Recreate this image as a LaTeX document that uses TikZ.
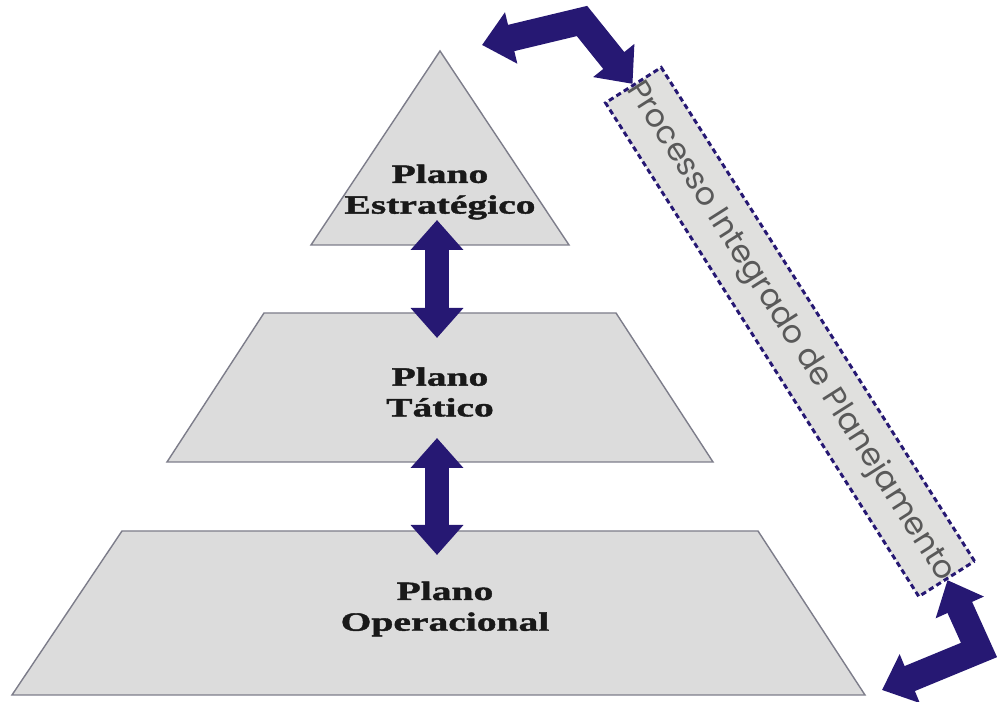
\documentclass[tikz,border=0pt]{standalone}
\usepackage{fontspec}
\usepackage{tikz}
\usetikzlibrary{positioning}
\usetikzlibrary{arrows.meta}
\usepackage{xcolor}

\newfontfamily\planoFont[FakeStretch=1.5, BoldFeatures={FakeBold=1.5}]{Liberation Serif}
\newfontfamily\processoFont{Poppins}

\definecolor{arrowBlue}{RGB}{38,24,115}
\definecolor{levelGray}{RGB}{220,220,220}
\definecolor{edgeGray}{RGB}{125,125,138}
\definecolor{boxGray}{RGB}{224,224,222}

\begin{document}
\begin{tikzpicture}[x=0.02cm, y=0.02cm]

\tikzset
  {
    myLevel/.style=    {fill=levelGray, draw=edgeGray, line width=0.8pt, line join=miter},
    myLabel/.style=    {font=\planoFont\bfseries\fontsize{15}{17.5}\selectfont, align=center, text=black!90},
    myArrow/.style=    {draw=arrowBlue, line width=0.48cm, line join=miter, >={Triangle[width=1.02cm, length=0.6cm]}, <->},
    myBentArrow/.style={myArrow, line width=0.54cm},
    myBox/.style=      {draw=arrowBlue, fill=boxGray, line width=1.7pt, dash pattern=on 3pt off 2pt,
                        minimum width=11.58cm, minimum height=1.32cm, inner sep=0pt,
                        font=\processoFont\fontsize{18}{20}\selectfont, text=black!65}
  }

\useasboundingbox (0,0) rectangle (997,702);

% levels
{
\draw[myLevel] (440,651) -- (569,457) -- (311,457) -- cycle;

\draw[myLevel] (264,389) -- (616,389) -- (713,240) -- (167,240) -- cycle;

\draw[myLevel] (122,171) -- (758,171) -- (865,7) -- (12,7) -- cycle;
}

% labels
{
\node[myLabel] (estrategico) at (440,510) {Plano\\Estratégico};
\node[myLabel] (tatico) at (440,310) {Plano\\Tático};
\node[myLabel] (operacional) at (445,93) {Plano\\Operacional};
}

% dashed box
\node[myBox, rotate=-57.6] (processo) at (790,370) {Processo Integrado de Planejamento};

% arrows
{
\coordinate (estrategicoEnd) at (437,482);
\coordinate (taticoTop) at (437,364);
\coordinate (taticoEnd) at (437,264);
\coordinate (operacionalTop) at (437,147);

\draw[myArrow] (estrategicoEnd) -- (taticoTop);
\draw[myArrow] (taticoEnd) -- (operacionalTop);

\coordinate (topTip) at (482,657);
\coordinate (topBend) at (582,681);
\coordinate (bottomBend) at (979,52);
\coordinate (bottomTip) at (882,12);

\draw[myBentArrow] (topTip) -- (topBend) -- (processo.west);
\draw[myBentArrow] (processo.east) -- (bottomBend) -- (bottomTip);
}

\end{tikzpicture}
\end{document}
